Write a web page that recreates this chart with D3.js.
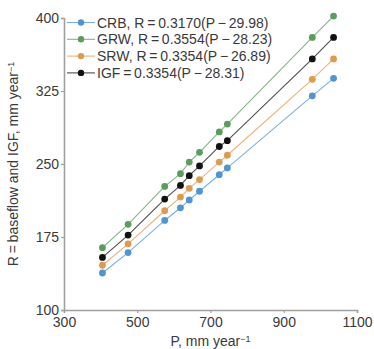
<!DOCTYPE html>
<html>
<head>
<meta charset="utf-8">
<script src="https://cdn.jsdelivr.net/npm/d3@7"></script>
<style>
	body { margin: 0; background: #fff; }
	text { font-family: "Liberation Sans", Arial, sans-serif; fill: #3a3a3a; }
</style>
</head>
<body>
<svg id="chart" width="374" height="349"></svg>
<script>
// precipitation values (x)
var precip = [405, 475, 575, 618, 642, 670, 724, 746, 978, 1036];

var crb = [138, 159, 192, 205, 213, 222, 239, 246, 320, 338];
var grw = [164, 188, 227, 240, 252, 262, 283, 291, 380, 402];
var srw = [146, 168, 202, 216, 225, 234, 252, 259, 337, 358];
var igf = [154, 177, 214, 228, 238, 248, 268, 274, 358, 380];

var seriesNames = ["CRB", "GRW", "SRW", "IGF"];
var seriesLabels = [
	"CRB, R\u2009=\u20090.3170(P\u2009\u2212\u200929.98)",
	"GRW, R\u2009=\u20090.3554(P\u2009\u2212\u200928.23)",
	"SRW, R\u2009=\u20090.3354(P\u2009\u2212\u200926.89)",
	"IGF\u2009=\u20090.3354(P\u2009\u2212\u200928.31)"
];
var seriesColors = ["#4f95d3", "#5a9e5c", "#e19a4c", "#111111"];

var xTicks = [300, 500, 700, 900, 1100];
var yTicks = [100, 175, 250, 325, 400];

var svg = d3.select("#chart");

var margin = {left: 64, top: 18, right: 17, bottom: 39};
var width = 374 - margin.left - margin.right,
	height = 349 - margin.top - margin.bottom;

var x = d3.scaleLinear().domain([300, 1100]).range([margin.left, margin.left + width]);
var y = d3.scaleLinear().domain([100, 400]).range([margin.top + height, margin.top]);

//axes
var xAxis = svg.append("g")
	.attr("transform", "translate(0," + (margin.top + height) + ")")
	.call(d3.axisBottom(x).tickValues(xTicks).tickFormat(d3.format("d")).tickSize(3).tickPadding(4));
var yAxis = svg.append("g")
	.attr("transform", "translate(" + margin.left + ",0)")
	.call(d3.axisLeft(y).tickValues(yTicks).tickFormat(d3.format("d")).tickSize(3).tickPadding(2));

[xAxis, yAxis].forEach(function(ax) {
	ax.select(".domain").attr("stroke", "#a0a0a0").attr("stroke-width", 1.6);
	ax.selectAll(".tick line").attr("stroke", "#a0a0a0").attr("stroke-width", 1.2);
	ax.selectAll(".tick text")
		.attr("fill", "#3a3a3a")
		.style("font-size", "14px")
		.style("font-family", "'Liberation Sans', Arial, sans-serif");
});

//lines and points
var all = [crb, grw, srw, igf];
var line = d3.line()
	.x(function(d, i) { return x(precip[i]); })
	.y(function(d) { return y(d); });

all.forEach(function(vals, k) {
	var g = svg.append("g").attr("class", "series " + seriesNames[k]);
	g.append("path")
		.attr("d", line(vals))
		.attr("fill", "none")
		.attr("stroke", seriesColors[k])
		.attr("stroke-opacity", 0.75)
		.attr("stroke-width", 1.1);
	g.selectAll("circle")
		.data(vals)
		.enter()
		.append("circle")
		.attr("cx", function(d, i) { return x(precip[i]); })
		.attr("cy", function(d) { return y(d); })
		.attr("r", 3.4)
		.attr("fill", seriesColors[k]);
});

//legend
var legend = svg.append("g").attr("class", "legend");
seriesLabels.forEach(function(label, k) {
	var ly = 22.5 + k * 16.8;
	legend.append("line")
		.attr("x1", 67).attr("x2", 95)
		.attr("y1", ly).attr("y2", ly)
		.attr("stroke", seriesColors[k])
		.attr("stroke-opacity", 0.75)
		.attr("stroke-width", 1.1);
	legend.append("circle")
		.attr("cx", 81).attr("cy", ly)
		.attr("r", 3.2)
		.attr("fill", seriesColors[k]);
	legend.append("text")
		.attr("x", 97).attr("y", ly)
		.attr("dy", "0.36em")
		.style("font-size", "14px")
		.text(label);
});

//axis titles
var xt = svg.append("text")
	.attr("x", x(700)).attr("y", 346)
	.attr("text-anchor", "middle")
	.style("font-size", "14px");
xt.append("tspan").text("P, mm year");
xt.append("tspan").attr("dy", "-0.45em").style("font-size", "9px").text("\u22121");

var yt = svg.append("text")
	.attr("transform", "translate(18," + y(250) + ") rotate(-90)")
	.attr("text-anchor", "middle")
	.style("font-size", "14px");
yt.append("tspan").text("R\u2009=\u2009baseflow and IGF, mm year");
yt.append("tspan").attr("dy", "-0.45em").style("font-size", "9px").text("\u22121");
</script>
</body>
</html>
